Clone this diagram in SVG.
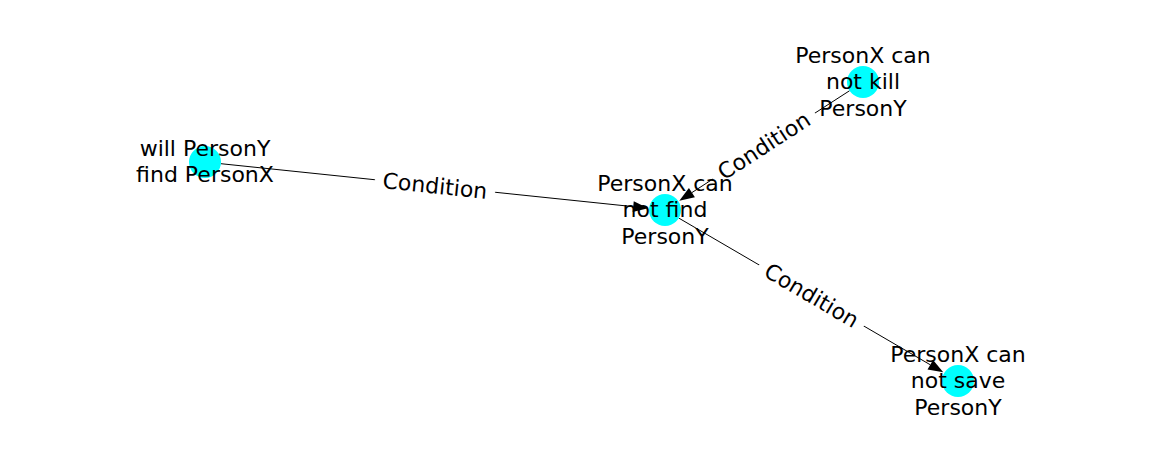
<svg xmlns="http://www.w3.org/2000/svg" width="1162" height="462" viewBox="0 0 1162 462">
  <style>
    .edge { stroke: #000; stroke-width: 1; fill: none; marker-end: url(#head); }
    .node { fill: #00ffff; }
    .lbl { font-family: "DejaVu Sans", "Liberation Sans", sans-serif; font-size: 22px; fill: #000; text-anchor: middle; }
    .ebox { fill: #fff; stroke: #fff; }
  </style>
  <defs>
    <marker id="head" markerUnits="userSpaceOnUse" markerWidth="16" markerHeight="12" refX="0" refY="5.5" orient="auto" overflow="visible">
      <path d="M0,0 L15,5.5 L0,11 Z" fill="#000"/>
    </marker>
  </defs>
  <rect width="1162" height="462" fill="#fff"/>

  <g id="connectors">
    <line class="edge" x1="220.9" y1="163.7" x2="633.2" y2="206.65"/>
    <line class="edge" x1="849.6" y1="90.7" x2="691.9" y2="192.6"/>
    <line class="edge" x1="678.8" y1="218.1" x2="930.3" y2="364.8"/>
  </g>

  <g id="edge-labels">
    <g transform="translate(435,186) rotate(5.96)">
      <rect class="ebox" x="-60" y="-14" width="120" height="28" rx="5"/>
      <text class="lbl" x="0" y="7.5">Condition</text>
    </g>
    <g transform="translate(764,146) rotate(-32.88)">
      <rect class="ebox" x="-60" y="-14" width="120" height="28" rx="5"/>
      <text class="lbl" x="0" y="7.5">Condition</text>
    </g>
    <g transform="translate(811.5,295.5) rotate(30.27)">
      <rect class="ebox" x="-60" y="-14" width="120" height="28" rx="5"/>
      <text class="lbl" x="0" y="7.5">Condition</text>
    </g>
  </g>

  <g id="node-will-find">
    <circle class="node" cx="205" cy="162" r="16"/>
    <text class="lbl" x="205" y="155.75">will PersonY</text>
    <text class="lbl" x="205" y="182.25">find PersonX</text>
  </g>

  <g id="node-not-find">
    <circle class="node" cx="665" cy="210" r="16"/>
    <text class="lbl" x="665" y="190.5">PersonX can</text>
    <text class="lbl" x="665" y="217">not find</text>
    <text class="lbl" x="665" y="243.5">PersonY</text>
  </g>

  <g id="node-not-kill">
    <circle class="node" cx="863" cy="82" r="16"/>
    <text class="lbl" x="863" y="62.5">PersonX can</text>
    <text class="lbl" x="863" y="89">not kill</text>
    <text class="lbl" x="863" y="115.5">PersonY</text>
  </g>

  <g id="node-not-save">
    <circle class="node" cx="958" cy="381" r="16"/>
    <text class="lbl" x="958" y="361.5">PersonX can</text>
    <text class="lbl" x="958" y="388">not save</text>
    <text class="lbl" x="958" y="414.5">PersonY</text>
  </g>
</svg>
